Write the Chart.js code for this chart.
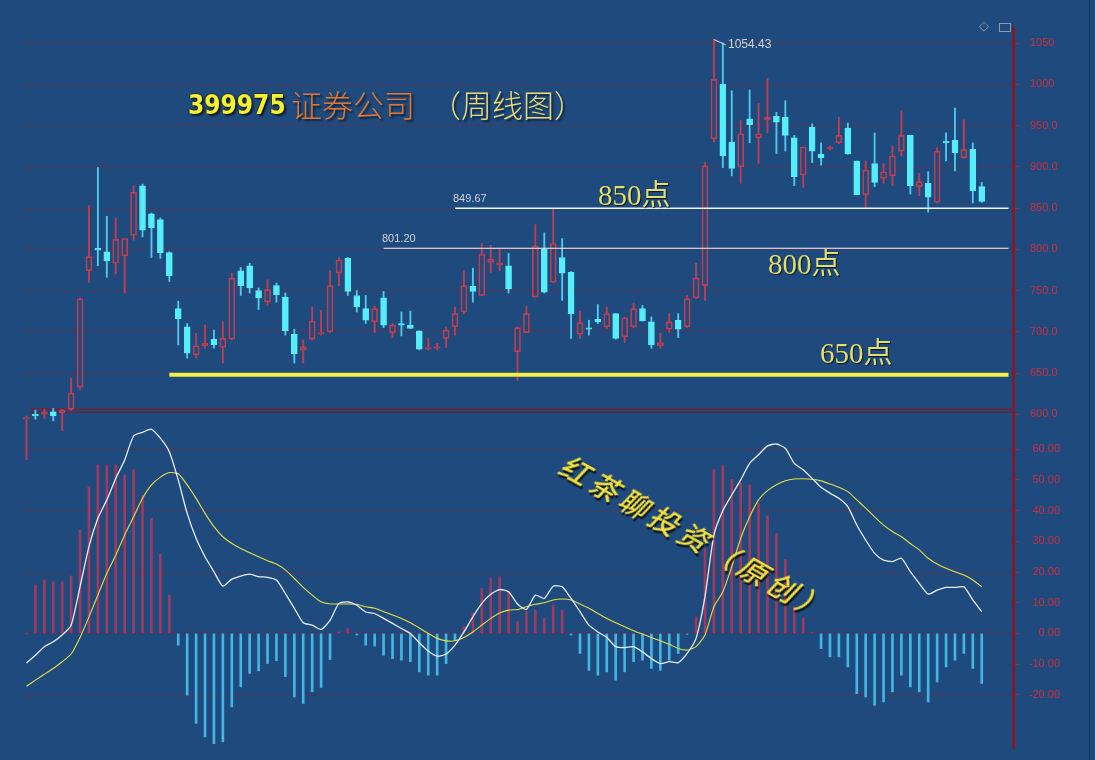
<!DOCTYPE html>
<html>
<head>
<meta charset="utf-8">
<script src="https://cdn.jsdelivr.net/npm/chart.js@4.4.0/dist/chart.umd.min.js"></script>
<style>
html, body { margin: 0; padding: 0; background: #1f4a7d; }
#wrap { position: relative; width: 1095px; height: 760px; overflow: hidden; background: #1f4a7d; }
canvas { position: absolute; left: 0; top: 0; }
#priceChart { z-index: 2; }
#macdChart { z-index: 1; }
.txt { position: absolute; white-space: nowrap; z-index: 5; line-height: 1; }
.num { font-family: "DejaVu Sans Condensed", "DejaVu Sans"; font-weight: bold; font-size: 26px; color: #f4f034;
       text-shadow: 1px 1px 0 #1a1a1a, -1px 0 0 #2a2a2a, 0 -1px 0 #2a2a2a, 2px 2px 2px rgba(0,0,0,.6); }
.org { font-family: "Noto Sans CJK SC"; font-weight: 300; font-size: 31px; color: #e2762e; text-shadow: 2px 2px 2px rgba(0,0,0,.55); }
.par { font-family: "Noto Sans CJK SC"; font-weight: 300; font-size: 31px; color: #e8da7a; text-shadow: 2px 2px 2px rgba(0,0,0,.55); }
.pt { font-family: "Liberation Serif", "Noto Sans CJK SC"; font-size: 29px; color: #e4de6e; text-shadow: 1px 1px 1px rgba(0,0,0,.7); }
.lv { font-family: "Liberation Sans", Arial; font-size: 11px; color: #d0d4da; }
.wm { font-family: "Noto Sans CJK SC"; font-weight: 500; font-style: italic; font-size: 29px; letter-spacing: 5px;
      color: #f2e03c; text-shadow: 2px 2px 1px rgba(0,0,0,.75); transform-origin: 0 50%; transform: rotate(29.5deg); line-height: 30px; }
</style>
</head>
<body>
<div id="wrap">
  <canvas id="macdChart" width="1095" height="760"></canvas>
  <canvas id="priceChart" width="1095" height="760"></canvas>

  <div class="txt num" style="left:188px; top:92px;">399975</div>
  <div class="txt org" style="left:291px; top:88px;">证券公司</div>
  <div class="txt par" style="left:430px; top:88px;">（周线图）</div>

  <div class="txt pt" style="left:598px; top:181px;">850点</div>
  <div class="txt pt" style="left:768px; top:250px;">800点</div>
  <div class="txt pt" style="left:820px; top:339px;">650点</div>

  <div class="txt lv" style="left:453px; top:193px;">849.67</div>
  <div class="txt lv" style="left:382px; top:233px;">801.20</div>
  <div class="txt lv" style="left:728px; top:38px; font-size:12px;">1054.43</div>
  <div class="txt" style="left:714px; top:39px; width:13px; border-top:1px solid #c8d0d8; transform-origin:0 0; transform:rotate(24deg);"></div>

  <div class="txt" style="left:979px; top:19px; font-size:13px; color:#8c9cb0; font-family:'DejaVu Sans';">◇</div>
  <div class="txt" style="left:999px; top:23px; width:10px; height:7px; border:1px solid #8c9cb0;"></div>
  <div class="txt" style="left:1089px; top:0; width:1px; height:760px; background:rgba(10,30,60,.6);"></div>

  <div class="txt wm" style="left:563px; top:446px;">红茶聊投资（原创）</div>
</div>

<script>
// 周线数据
const openP = [
  594, 600, 600, 603, 602, 606, 633, 774, 801, 797,
  783, 792, 817, 877, 843, 836, 796, 728, 706, 672,
  683, 691, 681, 691, 774, 780, 750, 736, 756, 742,
  697, 678, 691, 697, 700, 771, 789, 744, 728, 712,
  741, 699, 709, 708, 701, 679, 680, 692, 706, 724,
  755, 744, 784, 781, 780, 676, 699, 742, 800, 760,
  790, 772, 697, 703.5, 715, 706, 722, 694, 706, 728,
  712, 683, 703, 714, 706, 741, 756, 934, 1000, 930,
  900, 958, 935, 957, 961, 960, 935, 890, 948, 915,
  922, 929, 947, 907, 866, 904, 886, 889, 919, 938,
  876, 880, 857, 929.5, 932, 911, 921, 876
];
const highP = [
  598, 605, 606, 607, 606, 644, 741, 853, 899, 840,
  838, 813, 877, 879, 844, 838, 797, 737, 710, 698,
  708, 702, 712, 771, 778, 783, 753, 763, 759, 747,
  703, 690, 730, 726, 774, 790, 790, 750, 744, 731,
  749, 710, 724, 725, 701, 692, 686, 706, 730, 774,
  777, 807, 805, 801, 795, 706, 731, 830, 820, 849,
  813, 773, 725, 714, 733, 730, 722, 718, 735, 732,
  718, 698, 722, 722, 744, 783, 905, 1054.43, 1050, 992,
  956, 993, 977, 1007, 966, 980, 938, 924, 952, 929,
  925, 960, 953, 907, 907, 941, 904, 925, 968, 938,
  892, 894, 923, 941, 971, 957, 929, 881
];
const lowP = [
  545, 594, 595, 592, 580, 605, 630, 760, 780, 766,
  770, 747, 811, 815, 790, 789, 761, 684, 668, 668,
  680, 680, 662, 690, 744, 747, 727, 732, 736, 696,
  662, 662, 690, 696, 699, 756, 744, 724, 710, 699,
  705, 693, 695, 704, 678, 678, 678, 681, 696, 722,
  736, 744, 772, 774, 747, 641, 699, 742, 747, 759,
  738, 692, 692, 696, 710, 704, 691, 687, 705, 713,
  680, 680, 699, 693, 705, 740, 738, 930, 899, 889,
  880, 929, 904, 941, 916, 919, 877, 875, 905, 902,
  920, 928, 915, 866, 850, 876, 880, 877, 913, 867,
  865, 845, 856, 907, 895, 910, 856, 857
];
const closeP = [
  596, 598, 603, 598, 605, 626, 740, 791, 799, 786,
  812, 813, 869, 823, 826, 796, 768, 716, 674, 683,
  686, 684, 692, 765, 756, 753, 741, 751, 745, 701,
  673, 682, 713, 699, 756, 787, 749, 730, 714, 728,
  708, 708, 708, 704, 679, 680, 681, 702, 722, 756,
  749, 794, 788, 782, 752, 705, 722, 804, 748, 807,
  771, 722, 711, 703, 712, 722, 692, 717, 728, 713,
  684, 687, 712, 703, 740, 765, 901, 1006, 913, 898,
  940, 951, 940, 960, 954, 938, 888, 924, 919, 911,
  923, 938, 916, 866, 896, 881, 894, 913, 938, 877,
  882, 863, 919, 929, 917, 921, 871, 858
];

// MACD
const macdHist = [
  0, 15.8, 17.4, 16.8, 16.8, 18.7, 33.7, 47.8, 54.9, 54.9,
  54.9, 51.6, 53.3, 45.1, 37.5, 25.9, 12.5, -3.8, -20.1, -29.3,
  -33.7, -35.9, -35.3, -23.9, -17.4, -13.0, -12.2, -9.8, -8.9, -14.1,
  -20.7, -22.8, -19.0, -17.6, -8.5, 0.5, 1.6, -0.5, -3.8, -4.1,
  -7.1, -8.2, -8.7, -9.2, -12.5, -13.6, -13.6, -9.8, -2.2, 2.2,
  6.7, 14.7, 17.9, 18.5, 13.6, 3.8, 7.1, 7.6, 4.9, 9.2,
  7.6, -0.5, -6.5, -12.0, -13.6, -12.5, -15.2, -12.5, -9.2, -8.7,
  -11.4, -12.0, -8.7, -6.5, -0.3, 5.4, 27.7, 53.3, 54.9, 50.2,
  48.9, 48.4, 42.4, 38.3, 32.6, 24.1, 8.7, 4.9, 0.3, -4.9,
  -7.6, -7.6, -10.9, -19.6, -20.7, -23.4, -22.3, -19.0, -13.6, -17.4,
  -19.0, -22.3, -15.8, -10.9, -8.7, -6.5, -11.4, -16.3
];
const difLine = [
  -9.6, -7.1, -4.3, -2.7, -0.5, 2.7, 15.2, 28.3, 37.5, 43.5,
  50.5, 56.5, 64.3, 65.5, 66.5, 63.6, 59.2, 50.0, 39.1, 31.0,
  25.0, 20.1, 15.4, 17.7, 18.7, 19.3, 18.5, 18.3, 17.4, 13.0,
  8.2, 3.5, 2.7, 1.3, 4.3, 9.8, 10.3, 9.2, 7.0, 6.5,
  4.9, 3.3, 1.6, 0.0, -3.0, -5.7, -7.4, -6.7, -3.8, 0.5,
  5.4, 9.8, 12.8, 14.3, 13.6, 9.6, 7.8, 12.5, 11.4, 15.4,
  15.2, 11.4, 7.1, 2.7, 0.5, -1.3, -4.3, -4.6, -4.3, -6.0,
  -8.2, -9.8, -9.2, -9.5, -6.5, -1.6, 12.0, 32.1, 40.0, 45.1,
  50.0, 55.4, 58.2, 61.1, 61.7, 60.3, 55.4, 53.3, 50.5, 47.6,
  45.7, 44.0, 41.3, 35.3, 30.4, 26.1, 23.9, 23.4, 24.5, 20.1,
  16.3, 12.8, 14.1, 15.0, 15.0, 15.2, 10.9, 7.1
];
const deaLine = [
  -17.2, -15.2, -13.3, -11.4, -9.2, -6.7, -1.3, 5.4, 12.5, 19.6,
  25.5, 32.1, 38.0, 44.0, 48.4, 50.9, 52.4, 52.0, 48.4, 44.0,
  39.1, 34.8, 31.5, 29.3, 27.7, 26.3, 25.0, 23.7, 22.6, 20.7,
  17.9, 15.0, 12.5, 10.3, 9.6, 9.6, 9.6, 9.5, 8.7, 8.2,
  7.1, 6.0, 4.9, 3.5, 1.8, 0.0, -1.6, -2.4, -2.4, -1.3,
  0.5, 2.7, 4.9, 6.7, 7.6, 7.8, 8.7, 9.5, 10.0, 10.9,
  11.2, 10.9, 9.6, 8.2, 6.5, 4.9, 3.5, 2.2, 0.9, -0.2,
  -1.3, -2.4, -3.5, -4.9, -5.4, -4.3, -0.5, 8.7, 13.6, 21.7,
  31.0, 38.0, 43.5, 46.5, 48.4, 49.7, 50.3, 50.4, 50.2, 49.7,
  48.7, 47.6, 46.2, 43.5, 40.8, 38.0, 35.3, 33.2, 31.5, 29.3,
  27.2, 24.5, 22.6, 21.2, 20.1, 19.0, 17.4, 15.2
];

// 刻度
const priceTicks = [600, 650, 700, 750, 800, 850, 900, 950, 1000, 1050];
const macdTicks = [-20, -10, 0, 10, 20, 30, 40, 50, 60];

// 压力/支撑线: 数值 与 起始周
const levelValues = [849.67, 801.20, 648];
const levelStarts = [48, 40, 16];

// 108 根K线 + 右侧 3 个空位
const weeks = Array.from({ length: 111 }, (_, i) => 'W' + (i + 1));

const RED = '#c03e50';
const CYAN = '#56eef8';
const CYAN_WICK = '#4ccbee';
const GRID = 'rgba(128, 36, 58, 0.9)';
const AXIS_RED = '#cc2e3c';

const isUp = i => closeP[i] >= openP[i];
const bodyRanges = openP.map((o, i) => [Math.min(o, closeP[i]), Math.max(o, closeP[i])]);
const upperWicks = openP.map((o, i) => [Math.max(o, closeP[i]), highP[i]]);
const lowerWicks = openP.map((o, i) => [lowP[i], Math.min(o, closeP[i])]);
const levelData = k => weeks.map((w, i) => i >= levelStarts[k] ? levelValues[k] : null);

function fixAxis(scale) {
    scale.width = 47;
    scale.paddingTop = 0;
    scale.paddingBottom = 0;
}

// 上下两窗之间的分隔线
const separatorPlugin = {
    id: 'separator',
    beforeDatasetsDraw(chart) {
        const y = chart.scales.y.getPixelForValue(600) - 5;
        const ctx = chart.ctx;
        ctx.save();
        ctx.strokeStyle = '#6a2440';
        ctx.lineWidth = 1.5;
        ctx.beginPath();
        ctx.moveTo(chart.chartArea.left + 8, y);
        ctx.lineTo(chart.chartArea.right, y);
        ctx.moveTo(chart.chartArea.left + 8, y + 3);
        ctx.lineTo(chart.chartArea.right, y + 3);
        ctx.stroke();
        ctx.restore();
    }
};

const commonLayout = { padding: { left: 22, right: 35, top: 27, bottom: 12 } };
const commonX = { type: 'category', display: false, offset: true, grid: { display: false } };

// K线图
new Chart(document.getElementById('priceChart'), {
    type: 'bar',
    data: {
        labels: weeks,
        datasets: [
            { type: 'line', data: levelData(0), borderColor: '#f4f6f8', borderWidth: 1.4, pointRadius: 0, order: 0 },
            { type: 'line', data: levelData(1), borderColor: '#f4f6f8', borderWidth: 1.2, pointRadius: 0, order: 0 },
            { type: 'line', data: levelData(2), borderColor: '#f2f040', borderWidth: 4, pointRadius: 0, order: 0 },
            {
                type: 'bar', data: bodyRanges, grouped: false, barThickness: 6, minBarLength: 1.5,
                borderSkipped: false, borderWidth: 1, order: 1,
                backgroundColor: c => isUp(c.dataIndex) ? 'rgba(0,0,0,0)' : CYAN,
                borderColor: c => isUp(c.dataIndex) ? RED : CYAN
            },
            {
                type: 'bar', data: upperWicks, grouped: false, barThickness: 1.2, order: 2,
                backgroundColor: c => isUp(c.dataIndex) ? RED : CYAN_WICK
            },
            {
                type: 'bar', data: lowerWicks, grouped: false, barThickness: 1.2, order: 2,
                backgroundColor: c => isUp(c.dataIndex) ? RED : CYAN_WICK
            }
        ]
    },
    options: {
        responsive: false,
        animation: false,
        layout: commonLayout,
        plugins: { legend: { display: false }, tooltip: { enabled: false } },
        scales: {
            x: commonX,
            y: {
                position: 'right',
                min: 195.5,
                max: 1069.4,
                afterBuildTicks: s => { s.ticks = priceTicks.map(v => ({ value: v })); },
                afterFit: fixAxis,
                grid: {
                    color: c => (c.tick && c.tick.value === 600) ? 'rgba(0,0,0,0)' : GRID,
                    lineWidth: 1,
                    drawTicks: true,
                    tickLength: 6,
                    tickColor: '#a0283a'
                },
                border: { display: true, color: '#7e1c2c', width: 3, dash: [2, 2] },
                ticks: {
                    color: AXIS_RED,
                    padding: 11,
                    crossAlign: 'near',
                    font: { family: 'Liberation Sans, Arial', size: 11 },
                    callback: v => v >= 1000 ? String(v) : v.toFixed(1)
                }
            }
        }
    },
    plugins: [separatorPlugin]
});

// MACD
new Chart(document.getElementById('macdChart'), {
    type: 'bar',
    data: {
        labels: weeks,
        datasets: [
            { type: 'line', data: difLine, borderColor: '#e6eef6', borderWidth: 1.3, pointRadius: 0, tension: 0.2, order: 0 },
            { type: 'line', data: deaLine, borderColor: '#e4e042', borderWidth: 1.1, pointRadius: 0, tension: 0.2, order: 1 },
            {
                type: 'bar', data: macdHist, grouped: false, barThickness: 2, order: 2,
                backgroundColor: c => macdHist[c.dataIndex] >= 0 ? '#a03a5c' : '#42b6e4'
            }
        ]
    },
    options: {
        responsive: false,
        animation: false,
        layout: commonLayout,
        plugins: { legend: { display: false }, tooltip: { enabled: false } },
        scales: {
            x: commonX,
            y: {
                position: 'right',
                min: -37.3,
                max: 197.5,
                afterBuildTicks: s => { s.ticks = macdTicks.map(v => ({ value: v })); },
                afterFit: fixAxis,
                grid: {
                    color: c => (c.tick && c.tick.value % 20 === 0) ? GRID : 'rgba(0,0,0,0)',
                    lineWidth: 1,
                    drawTicks: true,
                    tickLength: 6,
                    tickColor: '#a0283a'
                },
                border: { display: false, dash: [2, 2] },
                ticks: {
                    color: AXIS_RED,
                    padding: 10,
                    crossAlign: 'far',
                    font: { family: 'Liberation Sans, Arial', size: 11 },
                    callback: v => v.toFixed(2)
                }
            }
        }
    }
});
</script>
</body>
</html>
